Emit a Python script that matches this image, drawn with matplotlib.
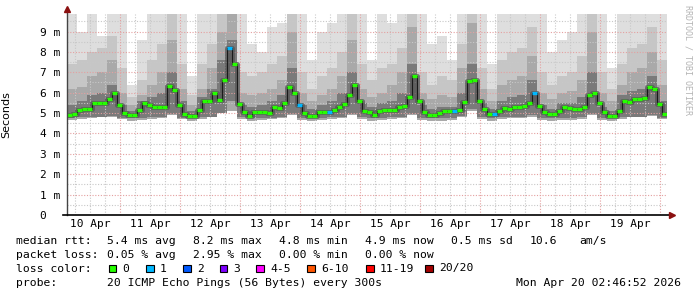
import numpy as np
import matplotlib
matplotlib.use("Agg")
import matplotlib.pyplot as plt
import matplotlib.dates as mdates
from matplotlib.patches import Rectangle
from datetime import datetime, timedelta

# ---------------- data ----------------
start = datetime(2026, 4, 10, 2, 46, 52)
end = datetime(2026, 4, 20, 2, 46, 52)

# median rtt (ms), 2-hour bins
median_ms = [4.92, 4.95, 5.15, 5.18, 5.22, 5.50, 5.50, 5.50, 5.70, 6.00,
             5.40, 5.02, 4.90, 4.92, 5.15, 5.50, 5.42, 5.30, 5.28, 5.28,
             6.35, 6.15, 5.40, 4.95, 4.86, 4.86, 5.17, 5.60, 5.60, 6.00,
             5.64, 6.60, 8.20, 7.40, 5.45, 5.05, 4.86, 5.05, 5.05, 5.05,
             5.02, 5.30, 5.23, 5.50, 6.30, 6.00, 5.40, 4.98, 4.86, 4.86,
             5.05, 5.05, 5.05, 5.15, 5.31, 5.43, 5.90, 6.38, 5.60, 5.08,
             5.05, 4.89, 5.10, 5.15, 5.15, 5.15, 5.28, 5.35, 5.80, 6.80,
             5.60, 5.05, 4.89, 4.89, 5.00, 5.08, 5.08, 5.12, 5.15, 5.55,
             6.55, 6.60, 5.60, 5.20, 4.97, 4.95, 5.12, 5.23, 5.20, 5.30,
             5.28, 5.35, 5.50, 6.00, 5.35, 5.05, 4.93, 4.95, 5.12, 5.28,
             5.23, 5.20, 5.18, 5.30, 5.90, 6.00, 5.50, 5.05, 4.87, 4.87,
             5.10, 5.60, 5.55, 5.67, 5.67, 5.72, 6.30, 6.20, 5.45, 4.95]

# lost pings per bin (out of 20)
loss_count = [0] * 120
for _i in (32, 46, 52, 77, 85, 93):
    loss_count[_i] = 1

# smoke (ping distribution, ms), 4-hour bins
smoke_max = [9.86, 9.00, 9.86, 8.80, 9.86, 9.86, 6.40, 8.60, 9.86, 9.86,
             9.86, 9.86, 6.80, 9.86, 9.86, 9.86, 9.86, 9.86, 8.40, 8.00,
             9.20, 9.40, 9.86, 9.86, 7.60, 9.00, 9.40, 9.86, 9.86, 9.86,
             7.60, 9.86, 9.40, 9.86, 9.86, 9.86, 8.40, 8.80, 7.60, 9.86,
             9.86, 9.86, 7.40, 9.86, 9.86, 9.86, 9.86, 9.86, 8.00, 8.60,
             9.00, 9.86, 9.86, 9.86, 7.20, 9.86, 9.86, 9.86, 9.86, 9.86]
smoke_upper = [7.4, 7.6, 8.0, 8.2, 8.8, 7.2, 5.8, 6.6, 7.6, 8.4,
               9.86, 7.4, 5.9, 7.4, 8.4, 9.86, 9.86, 7.0, 6.8, 7.0,
               7.4, 7.8, 9.86, 7.0, 6.2, 6.8, 7.2, 8.0, 9.86, 7.4,
               6.6, 7.2, 7.4, 8.2, 9.86, 7.0, 6.4, 6.8, 6.6, 8.4,
               9.86, 7.2, 6.2, 7.6, 8.0, 8.2, 9.2, 7.0, 6.4, 6.8,
               7.0, 7.8, 9.86, 7.0, 6.2, 7.4, 8.2, 8.4, 9.2, 7.6]
smoke_mid = [6.2, 6.3, 6.8, 7.0, 7.6, 6.0, 5.4, 5.9, 6.4, 7.0,
             8.6, 6.2, 5.4, 6.2, 7.2, 9.0, 9.86, 6.0, 5.9, 6.0,
             6.2, 6.6, 9.0, 6.0, 5.6, 5.9, 6.2, 6.8, 8.6, 6.2,
             5.8, 6.0, 6.4, 7.0, 9.2, 6.0, 5.7, 5.9, 5.8, 7.2,
             9.4, 6.2, 5.6, 6.4, 6.6, 6.8, 7.8, 6.0, 5.7, 6.0,
             6.1, 6.6, 9.0, 6.0, 5.6, 6.4, 7.0, 7.2, 8.0, 6.4]
smoke_core_hi = [5.4, 5.6, 5.9, 6.0, 6.4, 5.4, 5.1, 5.6, 5.8, 6.0,
                 7.0, 5.6, 5.1, 5.8, 6.2, 7.6, 8.6, 5.4, 5.3, 5.4,
                 5.6, 5.9, 7.2, 5.4, 5.2, 5.4, 5.6, 6.0, 7.0, 5.5,
                 5.3, 5.5, 5.6, 6.0, 7.4, 5.4, 5.2, 5.3, 5.3, 6.0,
                 7.4, 5.5, 5.2, 5.6, 5.8, 5.9, 6.6, 5.4, 5.2, 5.5,
                 5.5, 5.8, 7.0, 5.3, 5.1, 5.9, 6.1, 6.2, 6.8, 5.6]
smoke_core_lo = [4.78, 4.80, 4.82, 4.82, 4.85, 4.78, 4.75, 4.78, 4.80, 4.82,
                 4.95, 4.78, 4.75, 4.80, 4.82, 5.00, 5.60, 4.80, 4.75, 4.78,
                 4.78, 4.80, 4.95, 4.78, 4.75, 4.78, 4.80, 4.82, 4.95, 4.80,
                 4.75, 4.78, 4.80, 4.82, 4.95, 4.78, 4.75, 4.78, 4.78, 4.85,
                 5.20, 4.80, 4.75, 4.80, 4.82, 4.82, 4.90, 4.78, 4.75, 4.78,
                 4.78, 4.80, 4.95, 4.78, 4.75, 4.80, 4.82, 4.82, 4.90, 4.78]
smoke_min = [4.65, 4.70, 4.75, 4.80, 4.80, 4.70, 4.60, 4.65, 4.70, 4.75,
             4.90, 4.70, 4.60, 4.70, 4.80, 5.00, 5.10, 4.70, 4.60, 4.65,
             4.70, 4.75, 4.90, 4.65, 4.60, 4.65, 4.70, 4.75, 4.90, 4.70,
             4.60, 4.65, 4.70, 4.75, 4.90, 4.65, 4.60, 4.60, 4.65, 4.80,
             5.10, 4.70, 4.60, 4.70, 4.75, 4.75, 4.80, 4.65, 4.60, 4.65,
             4.65, 4.70, 4.90, 4.65, 4.60, 4.70, 4.80, 4.80, 4.85, 4.70]

y_ticks = [0, 1, 2, 3, 4, 5, 6, 7, 8, 9]
y_tick_labels = ["0  ", "1 m", "2 m", "3 m", "4 m", "5 m", "6 m", "7 m", "8 m", "9 m"]

loss_labels = ["0", "1", "2", "3", "4-5", "6-10", "11-19", "20/20"]
loss_colors = ["#26ff00", "#00b8ff", "#0059ff", "#7e00ff", "#ff00ff", "#ff5500", "#ff0000", "#a10000"]

stat_rows = [
    ("median rtt:", ["5.4 ms avg", "8.2 ms max", "4.8 ms min", "4.9 ms now", "0.5 ms sd", "10.6", "am/s"]),
    ("packet loss:", ["0.05 % avg", "2.95 % max", "0.00 % min", "0.00 % now"]),
]
probe_text = "20 ICMP Echo Pings (56 Bytes) every 300s"
stamp_text = "Mon Apr 20 02:46:52 2026"

# ---------------- figure ----------------
W, H = 697, 297
fig = plt.figure(figsize=(W / 100, H / 100), dpi=100)
fig.patch.set_facecolor("white")

def fx(px):
    return px / W

def fy(py):
    return 1 - py / H

ax = fig.add_axes([fx(67), fy(215), 600 / W, 201 / H])
ax.set_facecolor("white")

mono = "DejaVu Sans Mono"
LFS = 8.2

def ext(a):
    return list(a) + [a[-1]]

# smoke
t4 = [start + timedelta(hours=4 * j) for j in range(len(smoke_max) + 1)]
ax.fill_between(t4, ext(smoke_min), ext(smoke_max), step="post", color="#dedede", lw=0, zorder=1)
ax.fill_between(t4, ext(smoke_min), ext(smoke_upper), step="post", color="#c6c6c6", lw=0, zorder=1.1)
ax.fill_between(t4, ext(smoke_min), ext(smoke_mid), step="post", color="#a9a9a9", lw=0, zorder=1.2)
ax.fill_between(t4, ext(smoke_core_lo), ext(smoke_core_hi), step="post", color="#7a7a7a", lw=0, zorder=1.3)

# median
t2 = [start + timedelta(hours=2 * i) for i in range(len(median_ms) + 1)]
ax.step(t2, ext(median_ms), where="post", color="#555555", lw=3.6, zorder=3, alpha=0.75)
ax.step(t2, ext(median_ms), where="post", color="#1a1a1a", lw=0.8, zorder=4)
seg_colors = [loss_colors[c] if c < 4 else loss_colors[4] for c in loss_count]
ax.hlines(median_ms, t2[:-1], t2[1:], colors=seg_colors, lw=2.4, zorder=5)

# axes limits
ax.set_xlim(start, end)
ax.set_ylim(0, 9.86)

# y grid
ax.set_yticks(y_ticks)
ax.set_yticklabels(y_tick_labels, family=mono, fontsize=8)
ax.set_yticks(np.arange(0.5, 9.9, 1.0), minor=True)
ax.grid(which="major", axis="y", color="#e4a0a0", lw=0.8, ls=(0, (1, 1.5)))
ax.grid(which="minor", axis="y", color="#c8c8c8", lw=0.8, ls=(0, (1, 1.5)))

# x grid and labels
ax.xaxis.set_major_locator(mdates.HourLocator(byhour=[12]))
ax.xaxis.set_major_formatter(mdates.DateFormatter("%d %b"))
ax.xaxis.set_minor_locator(mdates.HourLocator(byhour=[6, 18]))
ax.grid(which="both", axis="x", color="#c8c8c8", lw=0.8, ls=(0, (1, 1.5)))
for lab in ax.get_xticklabels():
    lab.set_family(mono)
    lab.set_fontsize(8)
midnights = [datetime(2026, 4, 11) + timedelta(days=k) for k in range(10)]
for d in midnights:
    ax.axvline(d, color="#e4a0a0", lw=0.8, ls=(0, (1, 1.5)), zorder=2.6)
ax.set_axisbelow(False)

ax.tick_params(axis="both", which="both", length=0)
ax.tick_params(axis="y", pad=5)
ax.tick_params(axis="x", pad=3)

for s in ("top", "right", "left", "bottom"):
    ax.spines[s].set_visible(False)

# axis lines with arrows
ax.plot([0, 0], [0, 1.02], transform=ax.transAxes, color="#444444", lw=1.0, clip_on=False, zorder=6)
ax.plot([-0.007, 1.006], [0, 0], transform=ax.transAxes, color="black", lw=1.2, clip_on=False, zorder=6)
ax.plot([0], [1.025], transform=ax.transAxes, marker="^", ms=4.5, color="#8b1010", clip_on=False, zorder=7)
ax.plot([1.008], [0], transform=ax.transAxes, marker=">", ms=4.5, color="#8b1010", clip_on=False, zorder=7)

ax.set_ylabel("Seconds", fontsize=8)
ax.yaxis.set_label_coords(-(67 - 11) / 600, 0.5)

# watermark
fig.text(fx(688), fy(60), "RRDTOOL / TOBI OETIKER", rotation=270, ha="center", va="center",
         family=mono, fontsize=6, color="#b4b4b4")

# legend text
stat_x = [107, 193, 279, 365, 451, 530, 579]
row_y = [241, 255.5, 268.5, 283]
for r, (head, items) in enumerate(stat_rows):
    fig.text(fx(16), fy(row_y[r]), head, family=mono, fontsize=LFS, va="center", ha="left")
    for k, it in enumerate(items):
        fig.text(fx(stat_x[k]), fy(row_y[r]), it, family=mono, fontsize=LFS, va="center", ha="left")

fig.text(fx(16), fy(row_y[2]), "loss color:", family=mono, fontsize=LFS, va="center", ha="left")
sw_x = [108.5, 146, 183, 219.5, 256, 307, 366, 425]
for k, (lab, col) in enumerate(zip(loss_labels, loss_colors)):
    fig.patches.append(Rectangle((fx(sw_x[k]), fy(272)), 7.5 / W, 7.5 / H, transform=fig.transFigure,
                                 facecolor=col, edgecolor="black", lw=0.8))
    fig.text(fx(sw_x[k] + 14), fy(row_y[2]), lab, family=mono, fontsize=LFS, va="center", ha="left")

fig.text(fx(16), fy(row_y[3]), "probe:", family=mono, fontsize=LFS, va="center", ha="left")
fig.text(fx(107), fy(row_y[3]), probe_text, family=mono, fontsize=LFS, va="center", ha="left")
fig.text(fx(681), fy(row_y[3]), stamp_text, family=mono, fontsize=LFS, va="center", ha="right")

fig.savefig("out.png", dpi=100, facecolor="white")
